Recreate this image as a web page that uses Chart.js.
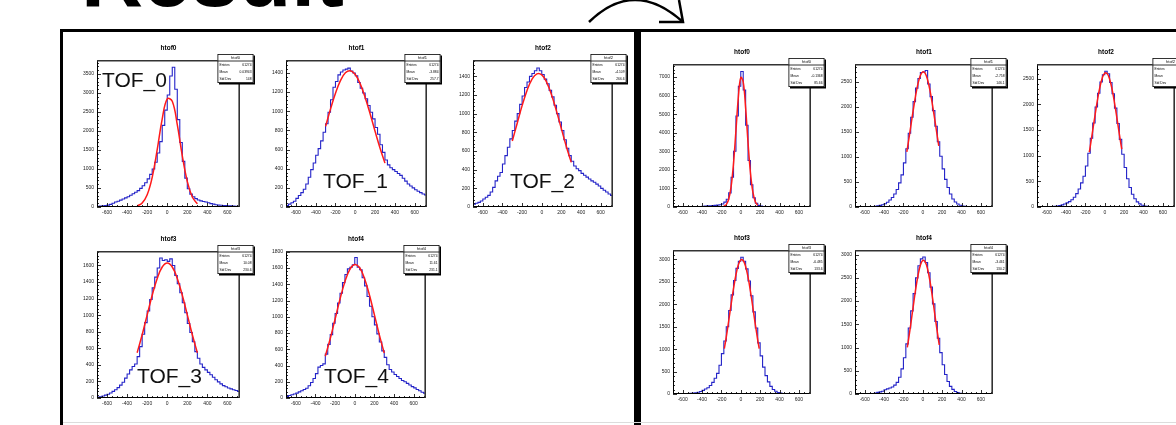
<!DOCTYPE html>
<html>
<head>
<meta charset="utf-8">
<script src="https://cdn.jsdelivr.net/npm/chart.js@4.4.1/dist/chart.umd.min.js"></script>
<style>
  html, body { margin: 0; padding: 0; background: #fff; width: 1176px; height: 425px; overflow: hidden; }
  #slide { position: relative; width: 1176px; height: 425px; overflow: hidden; font-family: "Liberation Sans", Arial, sans-serif; }
  .pad { position: absolute; }
  .pad canvas { display: block; }
  .tof { position: absolute; font-size: 21px; line-height: 21px; color: #111; white-space: nowrap; z-index: 5; }
  #heading { position: absolute; left: 81px; top: -67px; font-size: 86px; line-height: 86px; font-weight: bold; color: #000; white-space: nowrap; }
  #boxLeft { position: absolute; left: 60px; top: 29px; width: 577px; height: 420px; box-sizing: border-box; border: 3px solid #000; }
  #boxRight { position: absolute; left: 637px; top: 29px; width: 600px; height: 420px; box-sizing: border-box; border-top: 3px solid #000; border-left: 4px solid #000; }
  #bottomLine { position: absolute; left: 63px; top: 422px; width: 1113px; height: 1px; background: #dcdcdc; }
  #arrow { position: absolute; left: 0; top: 0; }
</style>
</head>
<body>
<div id="slide">
  <div id="heading">Result</div>
  <svg id="arrow" width="1176" height="40">
    <path d="M589 22 Q 634 -22 683 22" fill="none" stroke="#000" stroke-width="2.5"/>
    <path d="M659 22 L683 22 L679 0" fill="none" stroke="#000" stroke-width="2.5"/>
  </svg>
  <div id="boxLeft"></div>
  <div id="boxRight"></div>
  <div id="bottomLine"></div>
  <div class="tof" style="left:102px; top:69px;">TOF_0</div>
  <div class="tof" style="left:323px; top:170px;">TOF_1</div>
  <div class="tof" style="left:510px; top:170px;">TOF_2</div>
  <div class="tof" style="left:137px; top:365px;">TOF_3</div>
  <div class="tof" style="left:324px; top:365px;">TOF_4</div>
</div>
<script>
'use strict';

// histogram binning: 57 bins of 25 from -700 to 725
const histLow = -700;
const binWidth = 25;

const xTickValues = [-600, -400, -200, 0, 200, 400, 600];

// left panel (before correction)
const tof0LeftCounts = [
  20, 25, 30, 35, 50, 70, 100, 130, 150, 180,
  210, 240, 270, 310, 350, 390, 430, 490, 560, 640,
  740, 860, 1000, 1180, 1420, 1720, 2150, 2550, 2950, 3450,
  3680, 3100, 2300, 1700, 1200, 760, 480, 340, 270, 220,
  185, 160, 145, 130, 110, 90, 75, 60, 50, 45,
  40, 35, 30, 30, 25, 20, 20
];
const tof1LeftCounts = [
  15, 30, 45, 60, 90, 120, 150, 185, 240, 310,
  390, 460, 540, 610, 690, 780, 870, 990, 1120, 1250,
  1310, 1380, 1410, 1430, 1440, 1450, 1420, 1400, 1370, 1300,
  1240, 1190, 1130, 1060, 990, 920, 830, 760, 650, 570,
  490, 440, 410, 390, 370, 350, 330, 300, 270, 240,
  220, 200, 180, 165, 150, 135, 125
];
const tof2LeftCounts = [
  30, 40, 50, 65, 85, 105, 125, 160, 210, 280,
  330, 370, 460, 550, 640, 730, 820, 920, 1000, 1100,
  1190, 1280, 1340, 1400, 1430, 1460, 1490, 1460, 1420, 1370,
  1320, 1250, 1180, 1090, 1000, 910, 820, 720, 630, 550,
  490, 440, 410, 390, 360, 340, 320, 300, 280, 265,
  245, 225, 200, 180, 160, 140, 125
];
const tof3LeftCounts = [
  10, 15, 25, 35, 45, 60, 80, 100, 125, 155,
  190, 240, 290, 340, 380, 410, 500, 620, 770, 910,
  1050, 1190, 1330, 1460, 1570, 1690, 1660, 1670, 1650, 1680,
  1600, 1480, 1380, 1270, 1150, 1030, 900, 790, 680, 560,
  480, 410, 370, 340, 310, 280, 250, 220, 195, 170,
  150, 135, 120, 110, 100, 90, 80
];
const tof4LeftCounts = [
  20, 30, 40, 50, 60, 75, 90, 105, 120, 150,
  190, 240, 300, 380, 400, 420, 540, 660, 780, 920,
  1040, 1170, 1290, 1420, 1520, 1590, 1610, 1640, 1730, 1610,
  1580, 1480, 1380, 1250, 1130, 1000, 900, 790, 690, 580,
  500, 410, 350, 320, 290, 265, 240, 215, 200, 180,
  160, 140, 125, 105, 90, 70, 60
];

// right panel (after correction)
const tof0RightCounts = [
  5, 5, 5, 5, 5, 8, 10, 10, 12, 15,
  20, 25, 35, 45, 60, 70, 80, 90, 100, 120,
  160, 260, 420, 760, 1600, 3000, 4900, 6500, 7300, 6300,
  4400, 2500, 1200, 500, 200, 90, 50, 30, 20, 15,
  12, 10, 8, 6, 5, 5, 4, 4, 3, 3,
  3, 2, 2, 2, 2, 2, 2
];
const tof1RightCounts = [
  0, 0, 0, 1, 2, 4, 6, 10, 15, 22,
  32, 45, 65, 95, 140, 190, 260, 350, 480, 640,
  880, 1160, 1470, 1790, 2100, 2370, 2560, 2680, 2690, 2720,
  2450, 2200, 1920, 1610, 1300, 1010, 760, 550, 390, 260,
  160, 100, 60, 35, 20, 12, 7, 4, 3, 2,
  1, 1, 1, 0, 0, 0, 0
];
const tof2RightCounts = [
  0, 0, 1, 2, 3, 5, 8, 13, 20, 30,
  42, 58, 80, 105, 140, 190, 260, 350, 470, 600,
  800, 1050, 1340, 1640, 1950, 2220, 2440, 2580, 2650, 2600,
  2430, 2210, 1930, 1630, 1320, 1030, 770, 550, 380, 250,
  160, 100, 60, 35, 20, 12, 7, 4, 2, 1,
  1, 0, 0, 0, 0, 0, 0
];
const tof3RightCounts = [
  0, 0, 1, 2, 3, 5, 8, 13, 20, 28,
  40, 55, 80, 110, 140, 190, 260, 350, 460, 640,
  900, 1180, 1500, 1860, 2210, 2530, 2800, 2960, 3050, 2960,
  2790, 2520, 2190, 1830, 1470, 1140, 850, 600, 410, 270,
  170, 100, 60, 35, 20, 12, 7, 4, 2, 1,
  1, 0, 0, 0, 0, 0, 0
];
const tof4RightCounts = [
  0, 0, 1, 1, 2, 4, 7, 12, 20, 35,
  45, 60, 90, 110, 130, 150, 190, 250, 360, 540,
  780, 1080, 1420, 1790, 2160, 2500, 2760, 2910, 2950, 2830,
  2610, 2300, 1940, 1560, 1200, 890, 630, 420, 270, 165,
  100, 55, 30, 16, 8, 4, 2, 1, 1, 0,
  0, 0, 0, 0, 0, 0, 0
];

// gaussian fit curves (red)
const leftFitX = [-300, -250, -200, -150, -100, -50, 0, 50, 100, 150, 200, 250, 300];
const tof0LeftFit = [28, 106, 323, 782, 1509, 2322, 2848, 2784, 2169, 1348, 667, 263, 83];
const tof1LeftFit = [842, 1023, 1187, 1319, 1401, 1423, 1383, 1286, 1144, 973, 791, 616, 458];
const tof2LeftFit = [707, 898, 1086, 1249, 1368, 1426, 1415, 1336, 1201, 1027, 837, 648, 478];
const tof3LeftFit = [547, 763, 1004, 1240, 1444, 1582, 1630, 1582, 1444, 1240, 1004, 763, 547];
const tof4LeftFit = [514, 730, 973, 1219, 1433, 1584, 1644, 1604, 1469, 1265, 1023, 777, 554];

const tof0RightFitX = [-175, -150, -125, -100, -75, -50, -25, 0, 25, 50, 75, 100, 125, 150, 175];
const tof0RightFit = [34, 132, 420, 1098, 2351, 4121, 5925, 6977, 6732, 5321, 3448, 1829, 796, 283, 83];
const tof1RightFitX = [-165, -150, -125, -100, -75, -50, -25, 0, 25, 50, 75, 100, 125, 150, 165];
const tof1RightFit = [1100, 1279, 1596, 1914, 2210, 2453, 2620, 2693, 2662, 2531, 2315, 2037, 1725, 1404, 1218];
const tof2RightFitX = [-160, -150, -125, -100, -75, -50, -25, 0, 25, 50, 75, 100, 125, 150, 175];
const tof2RightFit = [1069, 1184, 1489, 1800, 2094, 2344, 2522, 2612, 2602, 2493, 2298, 2038, 1739, 1427, 1127];
const tof3RightFitX = [-170, -150, -125, -100, -75, -50, -25, 0, 25, 50, 75, 100, 125, 150, 175, 190];
const tof3RightFit = [1011, 1269, 1627, 1997, 2353, 2658, 2879, 2990, 2977, 2843, 2603, 2285, 1923, 1552, 1203, 1011];
const tof4RightFitX = [-160, -150, -125, -100, -75, -50, -25, 0, 25, 50, 75, 100, 125, 150, 170];
const tof4RightFit = [1003, 1134, 1490, 1868, 2234, 2546, 2771, 2875, 2845, 2685, 2419, 2077, 1701, 1330, 1055];

// y tick labels per pad
const yTicksL0 = [0, 500, 1000, 1500, 2000, 2500, 3000, 3500];
const yTicksL1 = [0, 200, 400, 600, 800, 1000, 1200, 1400];
const yTicksL2 = [0, 200, 400, 600, 800, 1000, 1200, 1400];
const yTicksL3 = [0, 200, 400, 600, 800, 1000, 1200, 1400, 1600];
const yTicksL4 = [0, 200, 400, 600, 800, 1000, 1200, 1400, 1600, 1800];
const yTicksR0 = [0, 1000, 2000, 3000, 4000, 5000, 6000, 7000];
const yTicksR1 = [0, 500, 1000, 1500, 2000, 2500];
const yTicksR2 = [0, 500, 1000, 1500, 2000, 2500];
const yTicksR3 = [0, 500, 1000, 1500, 2000, 2500, 3000];
const yTicksR4 = [0, 500, 1000, 1500, 2000, 2500, 3000];

const statLabels = ['Entries', 'Mean', 'Std Dev'];

const pads = [
  { name: 'htof0', frame: { l: 97, t: 60, r: 240, b: 207 }, counts: tof0LeftCounts, fitX: leftFitX, fitY: tof0LeftFit, yTicks: yTicksL0, yMax: 3870, stats: ['61274', '0.03943', '148'] },
  { name: 'htof1', frame: { l: 286, t: 60, r: 427, b: 207 }, counts: tof1LeftCounts, fitX: leftFitX, fitY: tof1LeftFit, yTicks: yTicksL1, yMax: 1535, stats: ['61274', '-3.884', '257.7'] },
  { name: 'htof2', frame: { l: 473, t: 60, r: 613, b: 207 }, counts: tof2LeftCounts, fitX: leftFitX, fitY: tof2LeftFit, yTicks: yTicksL2, yMax: 1575, stats: ['61274', '-4.109', '266.6'] },
  { name: 'htof3', frame: { l: 97, t: 251, r: 240, b: 398 }, counts: tof3LeftCounts, fitX: leftFitX, fitY: tof3LeftFit, yTicks: yTicksL3, yMax: 1775, stats: ['61274', '10.08', '230.6'] },
  { name: 'htof4', frame: { l: 286, t: 251, r: 426, b: 398 }, counts: tof4LeftCounts, fitX: leftFitX, fitY: tof4LeftFit, yTicks: yTicksL4, yMax: 1810, stats: ['61274', '11.61', '231.1'] },
  { name: 'htof0', frame: { l: 673, t: 64, r: 811, b: 207 }, counts: tof0RightCounts, fitX: tof0RightFitX, fitY: tof0RightFit, yTicks: yTicksR0, yMax: 7700, stats: ['61274', '-0.1368', '85.66'] },
  { name: 'htof1', frame: { l: 855, t: 64, r: 993, b: 207 }, counts: tof1RightCounts, fitX: tof1RightFitX, fitY: tof1RightFit, yTicks: yTicksR1, yMax: 2850, stats: ['61274', '-2.758', '146.1'] },
  { name: 'htof2', frame: { l: 1037, t: 64, r: 1175, b: 207 }, counts: tof2RightCounts, fitX: tof2RightFitX, fitY: tof2RightFit, yTicks: yTicksR2, yMax: 2790, stats: ['61274', '-1.963', '145.2'] },
  { name: 'htof3', frame: { l: 673, t: 250, r: 811, b: 394 }, counts: tof3RightCounts, fitX: tof3RightFitX, fitY: tof3RightFit, yTicks: yTicksR3, yMax: 3210, stats: ['61274', '-6.485', '133.6'] },
  { name: 'htof4', frame: { l: 855, t: 250, r: 993, b: 394 }, counts: tof4RightCounts, fitX: tof4RightFitX, fitY: tof4RightFit, yTicks: yTicksR4, yMax: 3100, stats: ['61274', '-3.461', '130.2'] }
];

const axisFont = { family: '"Liberation Sans", Arial, sans-serif', size: 5 };

// ROOT-like frame: inward ticks, boxed frame, title and stats box
const rootPad = {
  id: 'rootPad',
  afterDatasetsDraw(chart, args, opts) {
    const ctx = chart.ctx;
    const a = chart.chartArea;
    const xs = chart.scales.x;
    const ys = chart.scales.y;
    ctx.save();

    ctx.strokeStyle = '#000';
    ctx.lineWidth = 0.8;
    ctx.beginPath();
    for (let v = Math.ceil(xs.min / 50) * 50; v <= xs.max; v += 50) {
      const px = Math.round(xs.getPixelForValue(v)) + 0.5;
      const len = Math.abs(v % 200) < 1e-6 ? 4 : 2;
      ctx.moveTo(px, a.bottom);
      ctx.lineTo(px, a.bottom - len);
    }
    const yStep = opts.yTicks[1] - opts.yTicks[0];
    const yMinor = yStep / 5;
    for (let v = 0; v <= ys.max; v += yMinor) {
      const py = Math.round(ys.getPixelForValue(v)) + 0.5;
      const len = Math.abs(v % yStep) < 1e-6 ? 4 : 2;
      ctx.moveTo(a.left, py);
      ctx.lineTo(a.left + len, py);
    }
    ctx.stroke();

    // frame
    ctx.lineWidth = 1;
    ctx.strokeStyle = '#000';
    ctx.beginPath();
    ctx.moveTo(a.left + 0.5, a.top);
    ctx.lineTo(a.left + 0.5, a.bottom - 0.5);
    ctx.lineTo(a.right, a.bottom - 0.5);
    ctx.stroke();
    ctx.lineWidth = 1.6;
    ctx.strokeStyle = '#333';
    ctx.beginPath();
    ctx.moveTo(a.left, a.top + 0.8);
    ctx.lineTo(a.right - 0.8, a.top + 0.8);
    ctx.lineTo(a.right - 0.8, a.bottom);
    ctx.stroke();

    // title
    ctx.fillStyle = '#000';
    ctx.font = 'bold 6.5px "Liberation Sans", Arial, sans-serif';
    ctx.textAlign = 'center';
    ctx.textBaseline = 'middle';
    ctx.fillText(opts.name, (a.left + a.right) / 2, a.top - 12);

    // stats box
    const bw = 36;
    const bh = 29;
    const bx = a.right + 13.5 - bw;
    const by = a.top - 6;
    ctx.fillStyle = '#000';
    ctx.fillRect(bx + 1.5, by + 1.5, bw, bh);
    ctx.fillStyle = '#fff';
    ctx.fillRect(bx, by, bw, bh);
    ctx.lineWidth = 0.8;
    ctx.strokeStyle = '#000';
    ctx.strokeRect(bx + 0.4, by + 0.4, bw - 0.8, bh - 0.8);
    ctx.beginPath();
    ctx.moveTo(bx, by + 7);
    ctx.lineTo(bx + bw, by + 7);
    ctx.stroke();
    ctx.fillStyle = '#000';
    ctx.font = '4px "Liberation Sans", Arial, sans-serif';
    ctx.fillText(opts.name, bx + bw / 2, by + 3.8);
    ctx.font = '3.3px "Liberation Sans", Arial, sans-serif';
    for (let i = 0; i < statLabels.length; i++) {
      const ty = by + 11 + i * 7;
      ctx.textAlign = 'left';
      ctx.fillText(statLabels[i], bx + 2, ty);
      ctx.textAlign = 'right';
      ctx.fillText(opts.stats[i], bx + bw - 2, ty);
    }
    ctx.restore();
  }
};

function stepPoints(counts) {
  const pts = counts.map((c, i) => ({ x: histLow + i * binWidth, y: c }));
  pts.push({ x: histLow + counts.length * binWidth, y: counts[counts.length - 1] });
  return pts;
}

function drawPad(p) {
  const left = p.frame.l - 26;
  const top = p.frame.t - 20;
  const width = p.frame.r - p.frame.l + 43;
  const height = p.frame.b - p.frame.t + 34;

  const wrap = document.createElement('div');
  wrap.className = 'pad';
  wrap.style.left = left + 'px';
  wrap.style.top = top + 'px';
  wrap.style.width = width + 'px';
  wrap.style.height = height + 'px';
  const canvas = document.createElement('canvas');
  canvas.width = width;
  canvas.height = height;
  canvas.style.width = width + 'px';
  canvas.style.height = height + 'px';
  wrap.appendChild(canvas);
  document.getElementById('slide').appendChild(wrap);

  return new Chart(canvas, {
    type: 'line',
    data: {
      datasets: [{
        label: 'fit',
        data: p.fitX.map((x, i) => ({ x: x, y: p.fitY[i] })),
        borderColor: '#ff1a1a',
        borderWidth: 1.5,
        pointRadius: 0,
        tension: 0.4,
        fill: false
      }, {
        label: p.name,
        data: stepPoints(p.counts),
        borderColor: '#2424c8',
        borderWidth: 1.1,
        pointRadius: 0,
        stepped: true,
        fill: false
      }]
    },
    options: {
      responsive: false,
      animation: false,
      events: [],
      layout: { padding: { left: 0, top: 20, right: 17, bottom: 0 } },
      plugins: {
        legend: { display: false },
        tooltip: { enabled: false },
        rootPad: { name: p.name, stats: p.stats, yTicks: p.yTicks }
      },
      scales: {
        x: {
          type: 'linear',
          min: -700,
          max: 725,
          afterBuildTicks: s => { s.ticks = xTickValues.map(v => ({ value: v })); },
          afterFit: s => { s.height = 14; },
          grid: { display: false, drawTicks: false },
          border: { display: false },
          ticks: { font: axisFont, color: '#222', padding: 3, maxRotation: 0, autoSkip: false, callback: v => String(v) }
        },
        y: {
          type: 'linear',
          min: 0,
          max: p.yMax,
          afterBuildTicks: s => { s.ticks = p.yTicks.map(v => ({ value: v })); },
          afterFit: s => { s.width = 26; },
          grid: { display: false, drawTicks: false },
          border: { display: false },
          ticks: { font: axisFont, color: '#222', padding: 3, autoSkip: false, callback: v => String(v) }
        }
      }
    },
    plugins: [rootPad]
  });
}

pads.forEach(drawPad);
</script>
</body>
</html>
